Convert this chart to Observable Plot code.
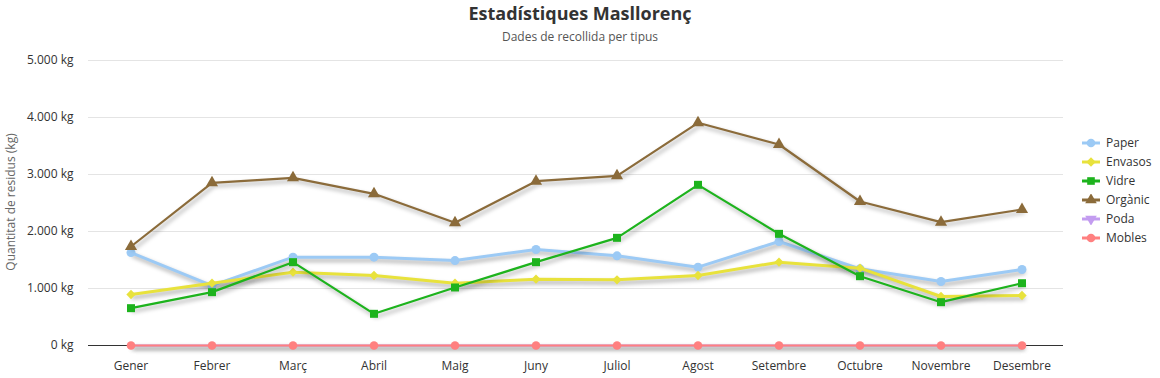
<!DOCTYPE html>
<html>
<head>
<meta charset="utf-8">
<script src="https://cdn.jsdelivr.net/npm/d3@7"></script>
<script src="https://cdn.jsdelivr.net/npm/@observablehq/plot@0.6"></script>
<style>
  html, body { margin: 0; padding: 0; background: #fff; }
  body { width: 1160px; height: 378px; position: relative; overflow: hidden; font-family: "Open Sans", "Noto Sans", sans-serif; }
  #title { position: absolute; top: 0; left: 0; width: 1160px; text-align: center; font-size: 18px; font-weight: 700; color: #333; line-height: 26px; }
  #subtitle { position: absolute; top: 28px; left: 0; width: 1160px; text-align: center; font-size: 12px; color: #555; line-height: 18px; }
  #chart { position: absolute; top: 50px; left: 0; }
  #chart svg g[aria-label="line"] path { filter: drop-shadow(2px 3px 2px rgba(0,0,0,0.35)); }
  #ylabel { position: absolute; left: 3px; top: 202px; transform: translate(0, -50%) rotate(-90deg); transform-origin: center; font-size: 12px; color: #666; white-space: nowrap; }
  #legend { position: absolute; left: 1080px; top: 133px; font-size: 12px; color: #333; }
  #legend .item { display: flex; align-items: center; height: 19px; }
  #legend svg { margin-right: 4px; }
</style>
</head>
<body>
<div id="title">Estadístiques Masllorenç</div>
<div id="subtitle">Dades de recollida per tipus</div>
<div id="chart"></div>
<div id="legend"></div>
<script>
const months = ["Gener","Febrer","Març","Abril","Maig","Juny","Juliol","Agost","Setembre","Octubre","Novembre","Desembre"];
const seriesNames = ["Paper","Envasos","Vidre","Orgànic","Poda","Mobles"];
const paper   = [1630, 1050, 1550, 1550, 1490, 1685, 1573, 1374, 1825, 1345, 1123, 1333];
const envasos = [ 895, 1093, 1286, 1228, 1093, 1164, 1152, 1228, 1462, 1357,  860,  877];
const vidre   = [ 655,  936, 1462,  556, 1018, 1462, 1889, 2819, 1959, 1216,  760, 1093];
const organic = [1737, 2854, 2942, 2661, 2152, 2883, 2977, 3907, 3526, 2526, 2164, 2386];
const poda    = [   0,    0,    0,    0,    0,    0,    0,    0,    0,    0,    0,    0];
const mobles  = [   0,    0,    0,    0,    0,    0,    0,    0,    0,    0,    0,    0];
const yTicks  = [0, 1000, 2000, 3000, 4000, 5000];
const colors  = ["#9ccaf5", "#e8e23c", "#1db31d", "#8b6b3a", "#c39cf0", "#ff8080"];

const triangleDown = {
  draw(context, size) {
    const s = Math.sqrt(size / 0.433) / 2;
    const h = s * Math.sqrt(3) / 2;
    context.moveTo(-s, -h * 0.66);
    context.lineTo(s, -h * 0.66);
    context.lineTo(0, h * 1.33);
    context.closePath();
  }
};
const symbols = ["circle", "diamond2", "square", "triangle", triangleDown, "circle"];
const sizes = [4.5, 4.2, 4.5, 4.5, 2.5, 4.3];
const allValues = [paper, envasos, vidre, organic, poda, mobles];

const data = [];
seriesNames.forEach((s, i) => months.forEach((m, j) => data.push({series: s, month: m, value: allValues[i][j], idx: i})));

const fmt = d => d3.format(",")(d).replace(/,/g, ".") + " kg";

const marks = [
  Plot.gridY(yTicks, {stroke: "#e4e4e4", strokeOpacity: 1}),
  Plot.ruleY([0], {stroke: "#333", strokeWidth: 1.2})
];
const widths = [3, 3, 2.2, 2.2, 2, 2.2];
seriesNames.forEach((s, i) => {
  const d = data.filter(r => r.series === s);
  marks.push(Plot.line(d, {x: "month", y: "value", stroke: colors[i], strokeWidth: widths[i]}));
  marks.push(Plot.dot(d, {x: "month", y: "value", fill: colors[i], stroke: "none", symbol: () => symbols[i], r: sizes[i]}));
});

const chart = Plot.plot({
  width: 1160,
  height: 328,
  marginLeft: 88,
  marginRight: 97,
  marginTop: 10,
  marginBottom: 33,
  style: {fontFamily: "'Open Sans', 'Noto Sans', sans-serif", fontSize: "12px", color: "#333", background: "#fff"},
  x: {type: "band", domain: months, label: null, tickSize: 0, tickPadding: 16, padding: 0},
  y: {domain: [0, 5000], ticks: yTicks, tickFormat: fmt, label: null, tickSize: 0, tickPadding: 15},
  symbol: {type: "identity"},
  marks
});
document.getElementById("chart").appendChild(chart);

const yl = document.createElement("div");
yl.id = "ylabel";
yl.textContent = "Quantitat de residus (kg)";
document.body.appendChild(yl);
yl.style.left = (10 - yl.offsetWidth / 2) + "px";

const legend = document.getElementById("legend");
const symMap = {circle: d3.symbolCircle, diamond2: d3.symbolDiamond2, square: d3.symbolSquare, triangle: d3.symbolTriangle};
seriesNames.forEach((s, i) => {
  const item = document.createElement("div");
  item.className = "item";
  const t = typeof symbols[i] === "string" ? symMap[symbols[i]] : symbols[i];
  const sym = d3.symbol(t, 4.3 * 4.3 * Math.PI)();
  item.innerHTML = `<svg width="22" height="12"><line x1="2" x2="20" y1="6" y2="6" stroke="${colors[i]}" stroke-width="3"/><path transform="translate(11,6)" d="${sym}" fill="${colors[i]}"/></svg><span>${s}</span>`;
  legend.appendChild(item);
});
</script>
</body>
</html>
